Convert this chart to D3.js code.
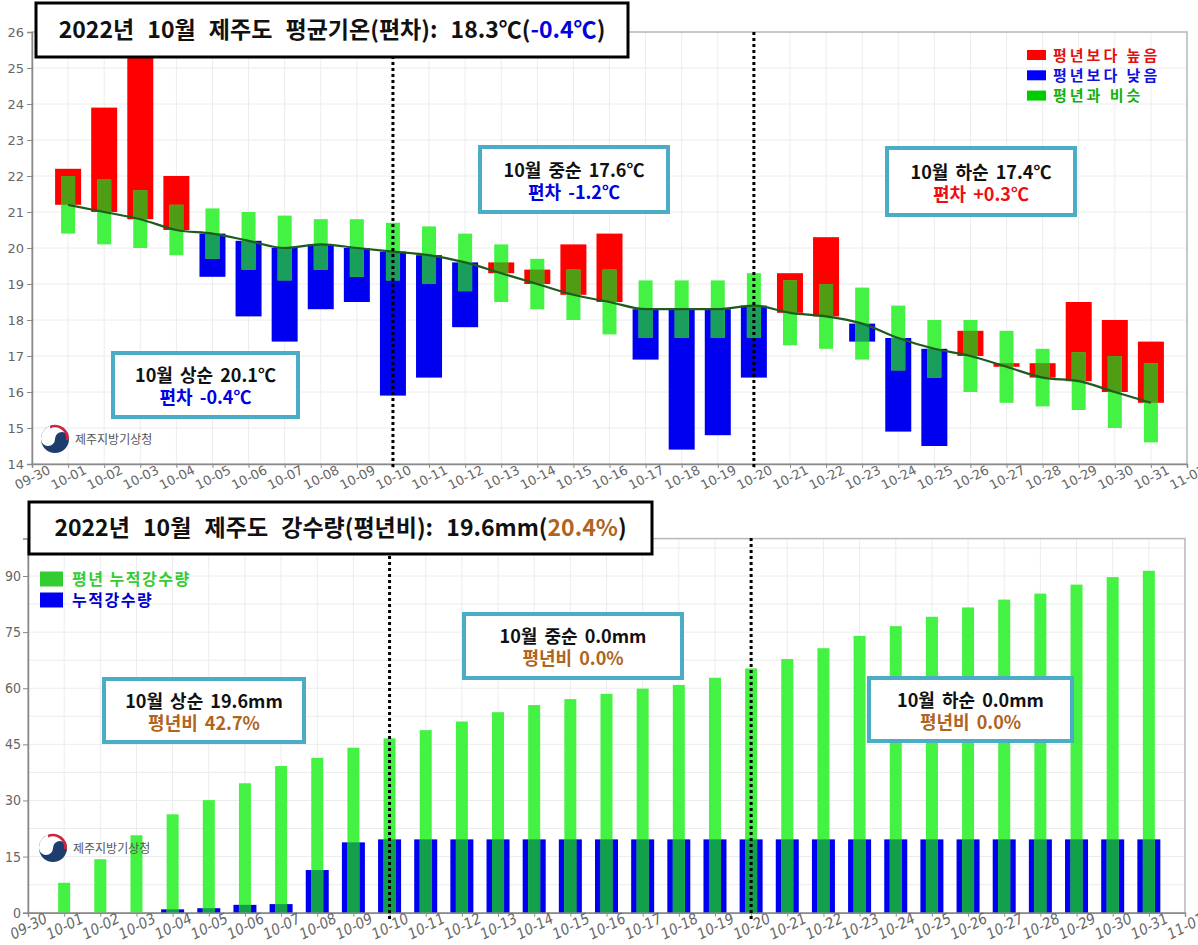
<!DOCTYPE html>
<html>
<head>
<meta charset="utf-8">
<script src="https://cdn.jsdelivr.net/npm/d3@7"></script>
<style>
  body { margin: 0; background: #fff; }
  svg { display: block; font-family: 'Noto Sans CJK KR', 'Noto Sans', sans-serif; }
</style>
</head>
<body>
<script>
// days of October 2022
const dates = ["10-01","10-02","10-03","10-04","10-05","10-06","10-07","10-08","10-09","10-10",
  "10-11","10-12","10-13","10-14","10-15","10-16","10-17","10-18","10-19","10-20",
  "10-21","10-22","10-23","10-24","10-25","10-26","10-27","10-28","10-29","10-30","10-31"];
const tickLabels = ["09-30"].concat(dates, ["11-01"]);

// daily mean temperature (℃)
const tempNormal = [21.2,21.0,20.8,20.5,20.4,20.2,20.0,20.1,20.0,19.9,19.8,19.6,19.3,19.0,18.7,18.5,
  18.3,18.3,18.3,18.4,18.2,18.1,17.9,17.5,17.2,17.0,16.7,16.4,16.3,16.0,15.7];
const tempActual = [22.2,23.9,25.6,22.0,19.2,18.1,17.4,18.3,18.5,15.9,16.4,17.8,19.6,19.4,20.1,20.4,
  16.9,14.4,14.8,16.4,19.3,20.3,17.4,14.9,14.5,17.7,16.8,16.8,18.5,18.0,17.4];
const similarUpper = [22.0,21.9,21.6,21.2,21.1,21.0,20.9,20.8,20.8,20.7,20.6,20.4,20.1,19.7,19.4,19.4,
  19.1,19.1,19.1,19.3,19.1,19.0,18.9,18.4,18.0,18.0,17.7,17.2,17.1,17.0,16.8];
const similarLower = [20.4,20.1,20.0,19.8,19.7,19.4,19.1,19.4,19.2,19.1,19.0,18.8,18.5,18.3,18.0,17.6,
  17.5,17.5,17.5,17.5,17.3,17.2,16.9,16.6,16.4,16.0,15.7,15.6,15.5,15.0,14.6];
const tempTicks = [14,15,16,17,18,19,20,21,22,23,24,25,26];

// cumulative precipitation (mm)
const rainNormalCum = [8.0,14.3,20.7,26.3,30.1,34.6,39.2,41.4,44.1,46.6,48.8,51.1,53.6,55.5,57.1,58.5,
  59.9,60.9,62.8,65.3,67.8,70.7,74.0,76.6,79.1,81.6,83.7,85.3,87.7,89.7,91.4];
const rainCum = [0,0,0,0.9,1.2,2.1,2.3,11.4,18.8,19.6,19.6,19.6,19.6,19.6,19.6,19.6,
  19.6,19.6,19.6,19.6,19.6,19.6,19.6,19.6,19.6,19.6,19.6,19.6,19.6,19.6,19.6];
const rainTicks = [0,15,30,45,60,75,90];

const W = 1198, H = 945;
const svg = d3.select("body").append("svg").attr("width", W).attr("height", H);
svg.append("rect").attr("width", W).attr("height", H).attr("fill", "#fff");

const boxColor = "#4aacc5";
const brown = "#b0641e";

function grid(g, x, y, xs, ys, x0, x1, y0, y1) {
  g.selectAll(".vg").data(xs).enter().append("line")
    .attr("x1", d => x(d)).attr("x2", d => x(d)).attr("y1", y0).attr("y2", y1)
    .attr("stroke", "#ececec").attr("stroke-width", 1);
  g.selectAll(".hg").data(ys).enter().append("line")
    .attr("x1", x0).attr("x2", x1).attr("y1", d => y(d)).attr("y2", d => y(d))
    .attr("stroke", "#ececec").attr("stroke-width", 1);
}

function styleAxis(g) {
  g.select(".domain").attr("stroke", "#8a8a8a").attr("stroke-width", 1.5);
  g.selectAll(".tick line").attr("stroke", "#8a8a8a");
  g.selectAll(".tick text").attr("fill", "#666").style("font-size", "13px")
    .style("font-family", "'DejaVu Sans', sans-serif");
}

function xAxis(g, x, y0) {
  const ax = g.append("g").attr("transform", `translate(0,${y0})`)
    .call(d3.axisBottom(x).tickValues(d3.range(tickLabels.length))
      .tickFormat(i => tickLabels[i]).tickSize(4).tickPadding(2));
  styleAxis(ax);
  ax.selectAll(".tick text")
    .attr("text-anchor", "middle").attr("dy", "0.35em").attr("y", 12)
    .attr("transform", "rotate(-27) translate(-6,0)");
  return ax;
}

function dotted(g, x, i, y0, y1) {
  g.append("line").attr("x1", x(i)).attr("x2", x(i)).attr("y1", y0).attr("y2", y1)
    .attr("stroke", "#000").attr("stroke-width", 3).attr("stroke-dasharray", "3,3");
}

function titleBox(g, x, y, w, h, parts) {
  g.append("rect").attr("x", x).attr("y", y).attr("width", w).attr("height", h)
    .attr("fill", "#fff").attr("stroke", "#000").attr("stroke-width", 3);
  const t = g.append("text").attr("x", x + w / 2).attr("y", y + h / 2 + 8)
    .attr("text-anchor", "middle").style("font-size", "23px").style("font-weight", "bold")
    .style("word-spacing", "8px");
  parts.forEach(p => t.append("tspan").attr("fill", p[1]).text(p[0]));
}

function noteBox(g, x, y, w, h, line1, line2, color2) {
  g.append("rect").attr("x", x).attr("y", y).attr("width", w).attr("height", h)
    .attr("fill", "#fff").attr("stroke", boxColor).attr("stroke-width", 4);
  g.append("text").attr("x", x + w / 2).attr("y", y + h / 2 - 3).attr("text-anchor", "middle")
    .style("font-size", "18px").style("font-weight", "bold").style("word-spacing", "3px")
    .attr("fill", "#111").text(line1);
  g.append("text").attr("x", x + w / 2).attr("y", y + h / 2 + 19).attr("text-anchor", "middle")
    .style("font-size", "18px").style("font-weight", "bold").style("word-spacing", "3px")
    .attr("fill", color2).text(line2);
}

function logo(g, cx, cy) {
  const r = 14;
  g.append("circle").attr("cx", cx).attr("cy", cy).attr("r", r).attr("fill", "#1d3d6e");
  g.append("path")
    .attr("d", `M${cx - r},${cy} A${r},${r} 0 0 1 ${cx + r},${cy} A${r / 2},${r / 2} 0 0 0 ${cx},${cy} A${r / 2},${r / 2} 0 0 1 ${cx - r},${cy}Z`)
    .attr("fill", "#fff");
  g.append("path")
    .attr("d", `M${cx - r * 0.35},${cy - r * 0.95} A${r},${r} 0 0 1 ${cx + r},${cy + 1} L${cx + r * 0.78},${cy + 1} A${r * 0.8},${r * 0.8} 0 0 0 ${cx - r * 0.35},${cy - r * 0.75}Z`)
    .attr("fill", "#d2233c");
  g.append("text").attr("x", cx + 20).attr("y", cy + 5).attr("fill", "#555")
    .style("font-size", "12px").text("제주지방기상청");
}

// ---------------- temperature chart ----------------
const gTop = svg.append("g");
const xT = d3.scaleLinear().domain([0, 32]).range([32, 1187]);
const yT = d3.scaleLinear().domain([14, 26]).range([464, 32]);
grid(gTop, xT, yT, d3.range(33), tempTicks, 32, 1187, 32, 464);
gTop.append("rect").attr("x", 32).attr("y", 32).attr("width", 1155).attr("height", 432)
  .attr("fill", "none").attr("stroke", "#b8b8b8").attr("stroke-width", 1.5);

const bw = 26, gw = 14;
dates.forEach((d, k) => {
  const i = k + 1, n = tempNormal[k], a = tempActual[k];
  const hi = Math.max(n, a), lo = Math.min(n, a);
  const col = a >= n ? "#ff0000" : "#0000f0";
  gTop.append("rect").attr("x", xT(i) - bw / 2).attr("y", yT(hi)).attr("width", bw)
    .attr("height", yT(lo) - yT(hi)).attr("fill", col);
  gTop.append("rect").attr("x", xT(i) - gw / 2).attr("y", yT(similarUpper[k])).attr("width", gw)
    .attr("height", yT(similarLower[k]) - yT(similarUpper[k])).attr("fill", "#44f244");
  const oTop = Math.min(similarUpper[k], hi), oBot = Math.max(similarLower[k], lo);
  if (oTop > oBot) {
    gTop.append("rect").attr("x", xT(i) - gw / 2).attr("y", yT(oTop)).attr("width", gw)
      .attr("height", yT(oBot) - yT(oTop)).attr("fill", a >= n ? "#4f9d14" : "#1a9e5c");
  }
});

gTop.append("path").datum(tempNormal)
  .attr("d", d3.line().x((d, k) => xT(k + 1)).y(d => yT(d)).curve(d3.curveMonotoneX))
  .attr("fill", "none").attr("stroke", "#1f5a1f").attr("stroke-width", 2.2);

const ayT = gTop.append("g").attr("transform", "translate(32,0)")
  .call(d3.axisLeft(yT).tickValues(tempTicks).tickSize(5).tickPadding(3));
styleAxis(ayT);
xAxis(gTop, xT, 464);

dotted(gTop, xT, 10, 32, 470);
dotted(gTop, xT, 20, 32, 470);

logo(gTop, 55, 439);

// legend
const legT = [["평년보다 높음", "#ff0000", "#e41010"], ["평년보다 낮음", "#0000ff", "#1010e0"], ["평년과 비슷", "#00cc00", "#10b010"]];
legT.forEach((l, k) => {
  const cy = 55 + k * 20.3;
  gTop.append("rect").attr("x", 1027).attr("y", cy - 5).attr("width", 19).attr("height", 10).attr("fill", l[1]);
  gTop.append("text").attr("x", 1053).attr("y", cy + 5.5).attr("fill", l[2])
    .style("font-size", "15px").style("font-weight", "bold").style("letter-spacing", "3px").text(l[0]);
});

noteBox(gTop, 113, 353, 185, 64, "10월 상순 20.1℃", "편차 -0.4℃", "#0000e0");
noteBox(gTop, 480, 147, 188, 65, "10월 중순 17.6℃", "편차 -1.2℃", "#0000e0");
noteBox(gTop, 887, 148, 188, 67, "10월 하순 17.4℃", "편차 +0.3℃", "#ee1010");

titleBox(gTop, 36, 3, 592, 54, [["2022년 10월 제주도 평균기온(편차): 18.3℃(", "#111"], ["-0.4℃", "#0000e0"], [")", "#111"]]);

// ---------------- precipitation chart ----------------
const gBot = svg.append("g");
const xB = d3.scaleLinear().domain([0, 32]).range([28, 1185]);
const yB = d3.scaleLinear().domain([0, 100]).range([912.7, 538.6]);
grid(gBot, xB, yB, d3.range(33), [7.5, 15, 22.5, 30, 37.5, 45, 52.5, 60, 67.5, 75, 82.5, 90, 97.5], 28, 1185, 538.6, 912.7);
gBot.append("rect").attr("x", 28).attr("y", 538.6).attr("width", 1157).attr("height", 374.1)
  .attr("fill", "none").attr("stroke", "#b8b8b8").attr("stroke-width", 1.5);

const bbw = 23, bgw = 12;
dates.forEach((d, k) => {
  const i = k + 1, r = rainCum[k], nr = rainNormalCum[k];
  if (r > 0) {
    gBot.append("rect").attr("x", xB(i) - bbw / 2).attr("y", yB(r)).attr("width", bbw)
      .attr("height", yB(0) - yB(r)).attr("fill", "#0000f0");
  }
  gBot.append("rect").attr("x", xB(i) - bgw / 2).attr("y", yB(nr)).attr("width", bgw)
    .attr("height", yB(0) - yB(nr)).attr("fill", "#44f244");
  const o = Math.min(r, nr);
  if (o > 0) {
    gBot.append("rect").attr("x", xB(i) - bgw / 2).attr("y", yB(o)).attr("width", bgw)
      .attr("height", yB(0) - yB(o)).attr("fill", "#12a04a");
  }
});

const ayB = gBot.append("g").attr("transform", "translate(28,0)")
  .call(d3.axisLeft(yB).tickValues(rainTicks).tickSize(5).tickPadding(2));
styleAxis(ayB);
ayB.selectAll(".tick text").style("font-family", "'Liberation Sans Narrow', 'DejaVu Sans Condensed', sans-serif")
  .style("font-size", "14px");
const axB = xAxis(gBot, xB, 912.7);
axB.selectAll(".tick text").style("font-family", "'Liberation Sans Narrow', 'DejaVu Sans Condensed', sans-serif")
  .style("font-size", "15px").style("font-style", "italic");

dotted(gBot, xB, 10, 538, 920);
dotted(gBot, xB, 20, 538, 920);

logo(gBot, 53, 848);

const legB = [["평년 누적강수량", "#33cc33", "#33cc33"], ["누적강수량", "#0000ee", "#0000cc"]];
legB.forEach((l, k) => {
  const cy = 579 + k * 21;
  gBot.append("rect").attr("x", 40).attr("y", cy - 7.5).attr("width", 23).attr("height", 15).attr("fill", l[1]);
  gBot.append("text").attr("x", 72).attr("y", cy + 6).attr("fill", l[2])
    .style("font-size", "16px").style("font-weight", "bold").style("letter-spacing", "1.5px").text(l[0]);
});

noteBox(gBot, 104, 679, 200, 63, "10월 상순 19.6mm", "평년비 42.7%", brown);
noteBox(gBot, 464, 614, 218, 64, "10월 중순 0.0mm", "평년비 0.0%", brown);
noteBox(gBot, 869, 678, 203, 63, "10월 하순 0.0mm", "평년비 0.0%", brown);

titleBox(gBot, 29, 502, 623, 52, [["2022년 10월 제주도 강수량(평년비): 19.6mm(", "#111"], ["20.4%", brown], [")", "#111"]]);
</script>
</body>
</html>
